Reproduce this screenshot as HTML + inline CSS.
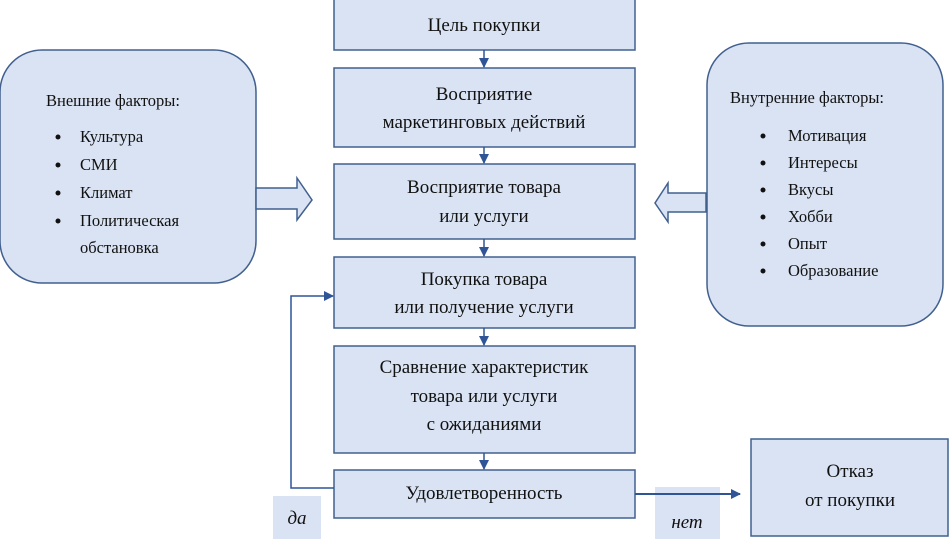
<!DOCTYPE html><html><head><meta charset="utf-8"><style>
body{margin:0;width:951px;height:539px;background:#fff;overflow:hidden;font-family:"Liberation Serif",serif}
</style></head><body>
<svg width="951" height="539" xmlns="http://www.w3.org/2000/svg" font-family="Liberation Serif, serif">
<defs><marker id="a" markerWidth="10" markerHeight="10" refX="9" refY="5" orient="auto" markerUnits="userSpaceOnUse"><path d="M0,0 L10,5 L0,10 z" fill="#2f5597"/></marker></defs>
<g fill="#dae3f3" stroke="#41608f" stroke-width="1.5">
<rect x="334" y="-1" width="301" height="51"/>
<rect x="334" y="68" width="301" height="79"/>
<rect x="334" y="164" width="301" height="75"/>
<rect x="334" y="257" width="301" height="71"/>
<rect x="334" y="346" width="301" height="107"/>
<rect x="334" y="470" width="301" height="48"/>
<rect x="751" y="439" width="197" height="97"/>
<rect x="0" y="50" width="256" height="233" rx="42"/>
<rect x="707" y="43" width="236" height="283" rx="42"/>
<path d="M256,188 H297 V178 L312,200 L297,220 V209 H256 Z"/>
<path d="M706,193 H668 V183 L655,203 L668,222 V212 H706 Z"/>
</g>
<rect x="273" y="496" width="48" height="43" fill="#dae3f3"/>
<rect x="655" y="487" width="65" height="52" fill="#dae3f3"/>
<g stroke="#2f5597" stroke-width="1.5" fill="none">
<line x1="484" y1="50" x2="484" y2="67" marker-end="url(#a)"/>
<line x1="484" y1="147" x2="484" y2="163" marker-end="url(#a)"/>
<line x1="484" y1="239" x2="484" y2="256" marker-end="url(#a)"/>
<line x1="484" y1="328" x2="484" y2="345" marker-end="url(#a)"/>
<line x1="484" y1="453" x2="484" y2="469" marker-end="url(#a)"/>
<polyline points="334,488 291,488 291,296 333,296" marker-end="url(#a)"/>
<line x1="635" y1="494" x2="740" y2="494" stroke-width="2"/>
<line x1="720" y1="494" x2="740" y2="494" marker-end="url(#a)"/>
</g>
<g font-size="19" text-anchor="middle" fill="#111">
<text x="484" y="31">Цель покупки</text>
<text x="484" y="100">Восприятие</text><text x="484" y="128">маркетинговых действий</text>
<text x="484" y="193">Восприятие товара</text><text x="484" y="222">или услуги</text>
<text x="484" y="285">Покупка товара</text><text x="484" y="313">или получение услуги</text>
<text x="484" y="373">Сравнение характеристик</text><text x="484" y="402">товара или услуги</text><text x="484" y="430">с ожиданиями</text>
<text x="484" y="499">Удовлетворенность</text>
<text x="850" y="477">Отказ</text><text x="850" y="506">от покупки</text>
<text x="297" y="524" font-style="italic">да</text>
<text x="687" y="528" font-style="italic">нет</text>
</g>
<g font-size="16.5" fill="#111">
<text x="46" y="106">Внешние факторы:</text>
<text x="80" y="142">Культура</text><text x="80" y="170">СМИ</text><text x="80" y="198">Климат</text><text x="80" y="226">Политическая</text><text x="80" y="253">обстановка</text>
<text x="730" y="103">Внутренние факторы:</text>
<text x="788" y="141">Мотивация</text><text x="788" y="168">Интересы</text><text x="788" y="195">Вкусы</text><text x="788" y="222">Хобби</text><text x="788" y="249">Опыт</text><text x="788" y="276">Образование</text>
</g>
<g fill="#111">
<circle cx="58" cy="137" r="2.5"/><circle cx="58" cy="165" r="2.5"/><circle cx="58" cy="193" r="2.5"/><circle cx="58" cy="221" r="2.5"/>
<circle cx="763" cy="136" r="2.5"/><circle cx="763" cy="163" r="2.5"/><circle cx="763" cy="190" r="2.5"/><circle cx="763" cy="217" r="2.5"/><circle cx="763" cy="244" r="2.5"/><circle cx="763" cy="271" r="2.5"/>
</g>
</svg>
</body></html>
